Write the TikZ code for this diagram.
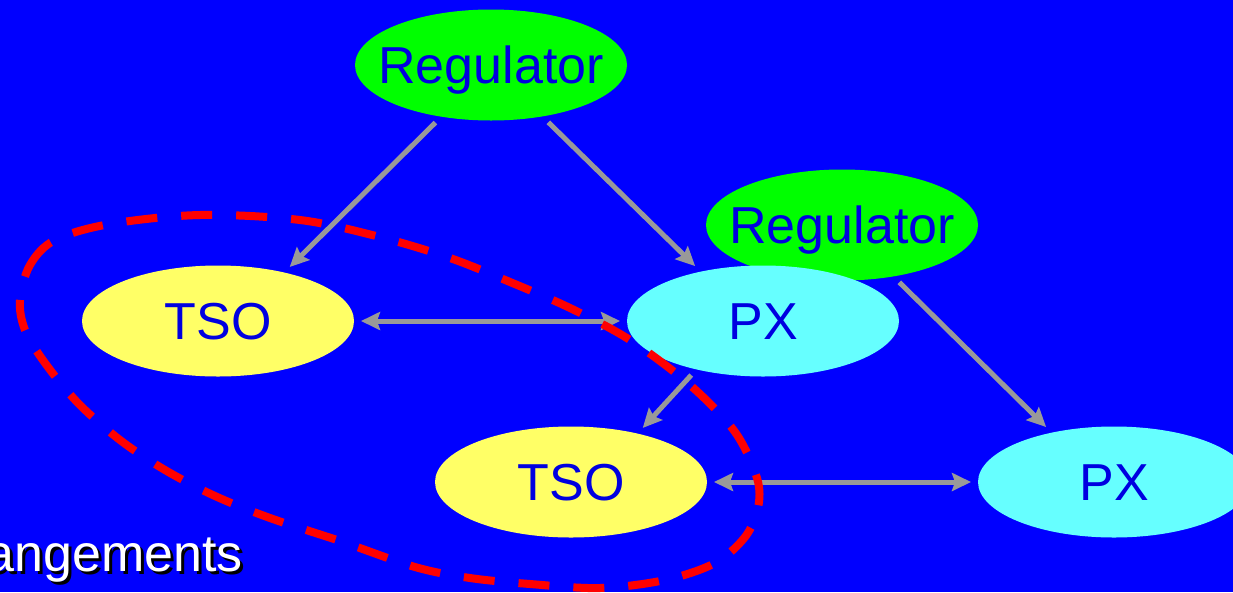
\documentclass[tikz,border=0pt]{standalone}
\usepackage{fontspec}
\setmainfont{Liberation Sans}
\usetikzlibrary{shapes.geometric,arrows.meta}

\definecolor{slideblue}{RGB}{0,0,255}
\definecolor{labelblue}{RGB}{0,0,224}
\definecolor{regfill}{RGB}{0,255,0}
\definecolor{tsofill}{RGB}{255,255,102}
\definecolor{pxfill}{RGB}{102,255,255}
\definecolor{linkgray}{RGB}{153,153,153}

\tikzset{
  actor/.style={ellipse, minimum width=272pt, minimum height=111pt,
    inner xsep=-30pt, inner ysep=0pt, outer sep=7pt, text=labelblue,
    font=\fontsize{52}{60}\selectfont, text height=37pt, text depth=0pt},
  regulator/.style={actor, fill=regfill},
  tso/.style={actor, fill=tsofill},
  px/.style={actor, fill=pxfill},
  link/.style={draw=linkgray, line width=5pt,
    -{Stealth[length=19pt,width=18pt,inset=3pt]}},
  twoway/.style={link, {Stealth[length=19pt,width=18pt,inset=3pt]}-{Stealth[length=19pt,width=18pt,inset=3pt]}},
  zone/.style={draw=red, line width=8pt, dash pattern=on 31pt off 24pt},
  caption/.style={font=\fontsize{52}{60}\selectfont, anchor=base east, inner sep=0pt}
}

\begin{document}
\begin{tikzpicture}[x=1pt, y=-1pt]
  \fill[slideblue] (0,0) rectangle (1233,592);
  \useasboundingbox (0,0) rectangle (1233,592);

  % market actors
  \node[regulator] (reg1) at (491,65) {Regulator};
  \node[regulator] (reg2) at (842,225) {Regulator};
  \node[tso] (tso1) at (218,321) {TSO};
  \node[px] (px1) at (763,321) {PX};
  \node[tso] (tso2) at (571,482) {TSO};
  \node[px] (px2) at (1114,482) {PX};

  % relations between actors
  \draw[link] (reg1.-134.5) -- (tso1.37);
  \draw[link] (reg1.-45) -- (px1.141.8);
  \draw[link] (reg2.-45.5) -- (px2.141.6);
  \draw[link] (px1.-143) -- (tso2.37.6);
  \draw[twoway] (px1.west) -- (tso1.east);
  \draw[twoway] (tso2.east) -- (px2.west);

  % dashed boundary round the integrated arrangement
  \draw[zone] plot[smooth cycle, tension=0.55] coordinates {
    (20,300) (30,265) (55,240) (110,224) (200,215) (300,220) (380,237)
    (450,258) (510,282) (570,308) (630,340) (690,385) (735,432)
    (757,478) (758,508) (745,537) (715,563) (665,580) (600,588)
    (530,584) (470,578) (415,567) (340,541) (270,518) (215,496)
    (165,470) (120,440) (78,403) (45,363) (25,330)};

  % caption with drop shadow
  \node[caption, text=black] (capshadow) at (246,574) {angements};
  \node[caption, text=white] (cap) at (243,571) {angements};
\end{tikzpicture}
\end{document}
